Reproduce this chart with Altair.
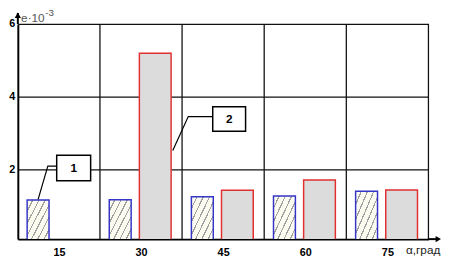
import altair as alt
import pandas as pd

# ---- data ----
angles = [15, 30, 45, 60, 75]
series1 = [1.17, 1.18, 1.26, 1.28, 1.41]          # blue, hatched
series2 = [None, 5.20, 1.44, 1.72, 1.45]          # red, cross-hatched
y_ticks = [2, 4, 6]

# callouts (data coordinates)
call_text = ["1", "2"]
call_x = [14.6, 43.1]
call_x2 = [20.8, 49.1]
call_y = [1.70, 3.06]
call_y2 = [2.40, 3.73]
call_tx = [17.7, 46.1]
call_ty = [2.05, 3.38]
lead1_x = [14.6, 12.98, 11.21]
lead1_y = [2.10, 2.10, 1.19]
lead2_x = [43.1, 38.63, 35.8]
lead2_y = [3.46, 3.46, 2.53]

FONT = "Liberation Sans"
xs = alt.Scale(domain=[7.5, 82.5], nice=False, zero=False)
ys = alt.Scale(domain=[0.1, 6], nice=False, zero=False)

df1 = pd.DataFrame({"angle": angles, "e": series1})
df2 = pd.DataFrame({"angle": angles, "e": series2})
one = pd.DataFrame({"a": [0]})


def hatch(n, bg, fg, frac):
    stops = []
    for i in range(n):
        a = i / n
        b = (i + 1 - frac) / n
        c = (i + 1) / n
        stops += [{"offset": a, "color": bg}, {"offset": b, "color": bg},
                  {"offset": b, "color": fg}, {"offset": c, "color": fg}]
    return {"gradient": "linear", "x1": 0, "y1": 0, "x2": 1, "y2": 1, "stops": stops}


# vertical grid lines at category boundaries
bounds = pd.DataFrame({"b": [a + 7.5 for a in angles]})
vgrid = alt.Chart(bounds).mark_rule(color="#111", strokeWidth=1.3).encode(
    x=alt.X("b:Q", scale=xs), y=alt.datum(0.1), y2=alt.datum(6))

# base with axes
axes = alt.Chart(one).mark_point(opacity=0).encode(
    x=alt.X("a:Q", scale=xs, title=None,
            axis=alt.Axis(values=angles, grid=False, ticks=False, domainColor="#000",
                          domainWidth=2, labelFont=FONT, labelFontWeight="bold",
                          labelFontSize=11, labelColor="#000", labelPadding=8)),
    y=alt.Y("a:Q", scale=ys, title=None,
            axis=alt.Axis(values=y_ticks, grid=True, gridColor="#111", gridWidth=1.3,
                          ticks=False, domainColor="#000", domainWidth=2,
                          labelFont=FONT, labelFontWeight="bold", labelFontSize=11,
                          labelColor="#000", labelPadding=3)),
)

bars1 = alt.Chart(df1).transform_calculate(
    x0="datum.angle - 5.8", x1="datum.angle - 1.8"
).mark_rect(clip=True, stroke="#3535c8", strokeWidth=1.5,
            fill=hatch(7, "#fbfbf0", "#a0a0a0", 0.2)).encode(
    x=alt.X("x0:Q", scale=xs), x2="x1:Q", y=alt.Y("e:Q", scale=ys), y2=alt.datum(0))

bars2 = alt.Chart(df2).transform_filter("isValid(datum.e)").transform_calculate(
    x0="datum.angle - 0.3", x1="datum.angle + 5.5"
).mark_rect(clip=True, stroke="#e03030", strokeWidth=1.5, fill="#dcdcdc").encode(
    x=alt.X("x0:Q", scale=xs), x2="x1:Q", y=alt.Y("e:Q", scale=ys), y2=alt.datum(0))

# axis arrows
yarrow = alt.Chart(one).mark_rule(color="#000", strokeWidth=2).encode(
    x=alt.datum(7.5), y=alt.datum(6), y2=alt.datum(6.3))
yhead = alt.Chart(one).mark_point(shape="triangle-up", filled=True, color="#000",
                                  size=40, opacity=1).encode(
    x=alt.datum(7.5), y=alt.datum(6.24))
xarrow = alt.Chart(one).mark_rule(color="#000", strokeWidth=2).encode(
    x=alt.datum(82.5), x2=alt.datum(84.4), y=alt.datum(0.1))
xhead = alt.Chart(one).mark_point(shape="triangle-right", filled=True, color="#000",
                                  size=40, opacity=1).encode(
    x=alt.datum(84.3), y=alt.datum(0.1))

# callouts
leads = pd.DataFrame({
    "g": ["1"] * 3 + ["2"] * 3,
    "o": [0, 1, 2] * 2,
    "x": lead1_x + lead2_x,
    "y": lead1_y + lead2_y,
})
leaders = alt.Chart(leads).mark_line(color="#000", strokeWidth=1.2).encode(
    x=alt.X("x:Q", scale=xs), y=alt.Y("y:Q", scale=ys), detail="g:N", order="o:Q")

cdf = pd.DataFrame({"t": call_text, "x": call_x, "x2": call_x2, "y": call_y,
                    "y2": call_y2, "tx": call_tx, "ty": call_ty})
boxes = alt.Chart(cdf).mark_rect(fill="white", stroke="#000", strokeWidth=1.5).encode(
    x=alt.X("x:Q", scale=xs), x2="x2:Q", y=alt.Y("y:Q", scale=ys), y2="y2:Q")
btext = alt.Chart(cdf).mark_text(font=FONT, fontWeight="bold", fontSize=12,
                                 color="#000").encode(
    x=alt.X("tx:Q", scale=xs), y=alt.Y("ty:Q", scale=ys), text="t:N")

# axis titles
ytitle = alt.Chart(one).mark_text(text="e·10", font=FONT, fontSize=12, color="#555",
                                  align="left", baseline="middle").encode(
    x=alt.datum(8.1), y=alt.datum(6.16))
ysup = alt.Chart(one).mark_text(text="-3", font=FONT, fontSize=10, color="#555",
                                align="left", baseline="middle").encode(
    x=alt.datum(12.5), y=alt.datum(6.29))
xtitle = alt.Chart(one).mark_text(text="α,град", font=FONT, fontSize=12, color="#222",
                                  align="left", baseline="middle").encode(
    x=alt.datum(78.4), y=alt.datum(-0.19))

chart = alt.layer(
    axes, vgrid, bars1, bars2, leaders, boxes, btext,
    yarrow, yhead, xarrow, xhead, ytitle, ysup, xtitle,
).properties(
    width=418, height=219,
    autosize=alt.AutoSizeParams(type="none"),
    padding={"left": 10, "top": 14, "right": 25, "bottom": 20},
).configure_view(stroke=None)

chart.save("out.html", embed_options={"renderer": "svg", "actions": False})
